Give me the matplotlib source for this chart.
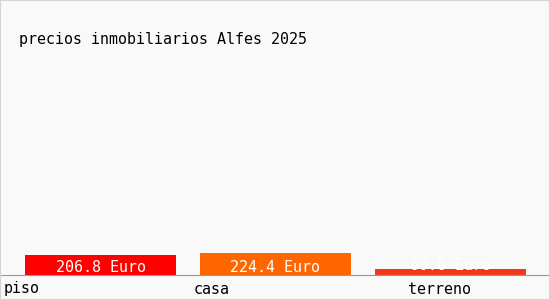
import matplotlib.pyplot as plt
from matplotlib.patches import Rectangle

title = "precios inmobiliarios Alfes 2025"
categories = ["piso", "casa", "terreno"]
values = [206.8, 224.4, 60.6]
colors = ["#ff0000", "#ff6600", "#ee3a18"]
label_x = [4, 194, 408]   # left edge of category labels, pixels

W, H = 550, 300
slot = 175
ymax = 2223
plot_h = 215
fig = plt.figure(figsize=(W / 100, H / 100), dpi=100, facecolor="#f9f9f9")
fig.patches.append(Rectangle((0, 0), 1, 1, transform=fig.transFigure,
                             fill=False, edgecolor="#d4d4d4", lw=1.5))

ax = fig.add_axes([0, 25 / H, 548 / W, plot_h / H])
ax.set_facecolor("none")
for s in ["top", "left", "right"]:
    ax.spines[s].set_visible(False)
ax.spines["bottom"].set_color("#999999")
ax.set_xticks([])
ax.set_yticks([])
ax.set_xlim(0, 548)
ax.set_ylim(0, ymax)

font = dict(family="DejaVu Sans Mono", fontsize=10.8)

for i, (v, c) in enumerate(zip(values, colors)):
    x0 = 25 + slot * i
    ax.bar(x0, v, width=151, align="edge", color=c, zorder=2)
    h = v / ymax * plot_h
    off = 2.5 if h > 15 else h - 1
    ax.annotate("%.1f Euro" % v, xy=(x0 + 75.5, 0), xytext=(0, off),
                textcoords="offset pixels", ha="center", va="baseline",
                color="white", zorder=3, **font)

for name, lx in zip(categories, label_x):
    fig.text(lx / W, 1 - 293.5 / H, name, ha="left", va="baseline",
             color="black", **font)

fig.text(19 / W, 1 - 44 / H, title, ha="left", va="baseline", color="black", **font)

fig.savefig("out.png", dpi=100, facecolor=fig.get_facecolor())
